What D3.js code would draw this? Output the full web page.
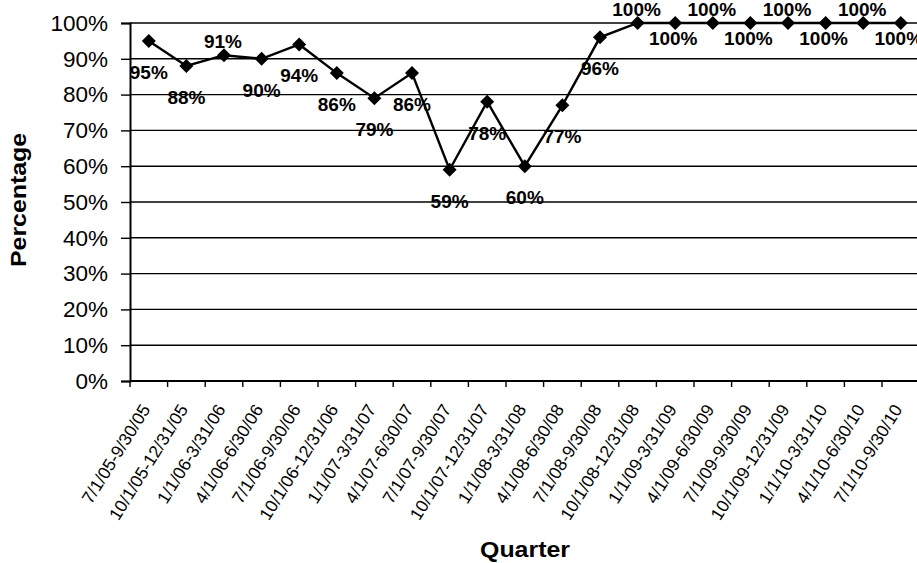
<!DOCTYPE html>
<html>
<head>
<meta charset="utf-8">
<script src="https://cdn.jsdelivr.net/npm/d3@7"></script>
<style>
  html, body { margin: 0; padding: 0; background: #fff; }
  svg { display: block; }
  text { font-family: "Liberation Sans", Arial, sans-serif; fill: #000; }
</style>
</head>
<body>
<svg id="chart" width="917" height="563"></svg>
<script>
// Quarterly percentage series
const quarters = [
  "7/1/05-9/30/05", "10/1/05-12/31/05", "1/1/06-3/31/06", "4/1/06-6/30/06",
  "7/1/06-9/30/06", "10/1/06-12/31/06", "1/1/07-3/31/07", "4/1/07-6/30/07",
  "7/1/07-9/30/07", "10/1/07-12/31/07", "1/1/08-3/31/08", "4/1/08-6/30/08",
  "7/1/08-9/30/08", "10/1/08-12/31/08", "1/1/09-3/31/09", "4/1/09-6/30/09",
  "7/1/09-9/30/09", "10/1/09-12/31/09", "1/1/10-3/31/10", "4/1/10-6/30/10",
  "7/1/10-9/30/10"
];
const percentages = [95, 88, 91, 90, 94, 86, 79, 86, 59, 78, 60, 77, 96,
                     100, 100, 100, 100, 100, 100, 100, 100];
// where each value label sits relative to its marker
const labelPlacement = ["below", "below", "above", "below", "below", "below", "below",
                        "below", "below", "below", "below", "below", "below",
                        "above", "near", "above", "near", "above", "near", "above", "near"];
const yTicks = [0, 10, 20, 30, 40, 50, 60, 70, 80, 90, 100];

const svg = d3.select("#chart");
const plotLeft = 130, plotTop = 23, plotBottom = 381;
const step = 37.6;

const x = d3.scaleBand().domain(quarters).range([plotLeft, plotLeft + step * quarters.length]).padding(0);
const y = d3.scaleLinear().domain([0, 100]).range([plotBottom, plotTop]);

// horizontal gridlines
svg.append("g").selectAll("line").data(yTicks).join("line")
  .attr("x1", plotLeft).attr("x2", 917)
  .attr("y1", d => y(d)).attr("y2", d => y(d))
  .attr("stroke", "#000").attr("stroke-width", 1.4);

// y axis
const yAxis = svg.append("g").attr("transform", `translate(${plotLeft},0)`)
  .call(d3.axisLeft(y).tickValues(yTicks).tickFormat(d => d + "%").tickSize(9).tickPadding(13));
yAxis.select(".domain").attr("stroke", "#000").attr("stroke-width", 2);
yAxis.selectAll(".tick line").attr("stroke", "#000").attr("stroke-width", 1.4);
yAxis.selectAll(".tick text")
  .style("font-family", '"Liberation Sans", Arial, sans-serif')
  .style("font-size", "22.5px").attr("fill", "#000");

// x axis: labels at band centres, tick marks at band boundaries
const xAxis = svg.append("g").attr("transform", `translate(0,${plotBottom})`)
  .call(d3.axisBottom(x).tickSize(0).tickPadding(0));
xAxis.select(".domain").remove();
xAxis.selectAll(".tick text")
  .style("font-family", '"Liberation Sans", Arial, sans-serif')
  .style("font-size", "17.5px").attr("fill", "#000")
  .attr("text-anchor", "end")
  .attr("dy", "0.35em")
  .attr("transform", "translate(-3,25) rotate(-58)");

svg.append("g").selectAll("line").data(quarters).join("line")
  .attr("x1", d => x(d)).attr("x2", d => x(d))
  .attr("y1", plotBottom).attr("y2", plotBottom + 6)
  .attr("stroke", "#000").attr("stroke-width", 1.4);
svg.append("line")
  .attr("x1", plotLeft).attr("x2", 917).attr("y1", plotBottom).attr("y2", plotBottom)
  .attr("stroke", "#000").attr("stroke-width", 2);

// series line
const cx = d => x(d) + x.bandwidth() / 2;
const pts = quarters.map((q, i) => ({ q, v: percentages[i], p: labelPlacement[i] }));
svg.append("path").datum(pts)
  .attr("fill", "none").attr("stroke", "#000").attr("stroke-width", 2.4)
  .attr("d", d3.line().x(d => cx(d.q)).y(d => y(d.v)));

// diamond markers
svg.append("g").selectAll("path").data(pts).join("path")
  .attr("transform", d => `translate(${cx(d.q)},${y(d.v)})`)
  .attr("d", "M0,-7L7,0L0,7L-7,0Z")
  .attr("fill", "#000");

// value labels
const labelDy = { below: 38, above: -7, near: 22 };
const labelDx = { below: 0, above: -1, near: -2 };
svg.append("g").selectAll("text").data(pts).join("text")
  .attr("x", d => cx(d.q) + labelDx[d.p])
  .attr("y", d => y(d.v) + labelDy[d.p])
  .attr("text-anchor", "middle")
  .style("font-size", "19px").style("font-weight", "bold")
  .text(d => d.v + "%");

// axis titles
svg.append("text")
  .attr("transform", `translate(26,200) rotate(-90)`)
  .attr("text-anchor", "middle")
  .attr("textLength", 134).attr("lengthAdjust", "spacingAndGlyphs")
  .style("font-size", "22px").style("font-weight", "bold")
  .text("Percentage");
svg.append("text")
  .attr("x", 525).attr("y", 557)
  .attr("text-anchor", "middle")
  .attr("textLength", 90).attr("lengthAdjust", "spacingAndGlyphs")
  .style("font-size", "22px").style("font-weight", "bold")
  .text("Quarter");
</script>
</body>
</html>
